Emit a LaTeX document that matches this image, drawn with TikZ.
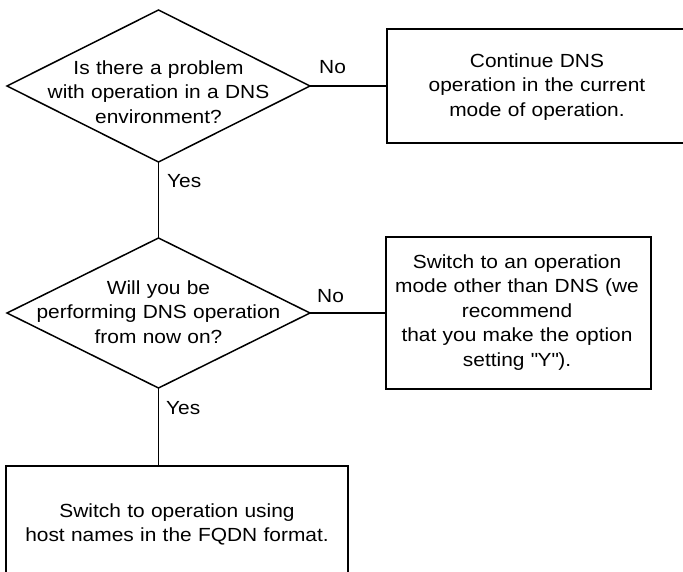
\documentclass[tikz,border=0pt]{standalone}
\usepackage{fontspec}
\setmainfont{Liberation Sans}[FakeStretch=1.1]
\usetikzlibrary{shapes.geometric}
\newcommand\straightdq{\XeTeXglyph\numexpr\XeTeXcharglyph"22\relax}
\begin{document}
\begin{tikzpicture}[x=1pt,y=-1pt,
  every node/.style={font=\fontsize{19}{24.5}\selectfont},
  dec/.style={diamond, draw, line width=1.5pt, inner sep=0pt, outer sep=0pt, minimum width=303pt},
  boxnode/.style={rectangle, draw, line width=1.7pt, inner sep=0pt, outer sep=0pt},
  txt/.style={anchor=base, align=center, text width=330pt, inner sep=0pt},
  lbl/.style={anchor=base west, inner sep=0pt},
  conn/.style={line width=1.5pt}]
\useasboundingbox (0,0) rectangle (683,571);
\clip (0,0) rectangle (683,571);
% decisions
\node[dec, minimum height=152pt] (d1) at (158.5,86) {};
\node[dec, minimum height=150pt] (d2) at (158.5,313) {};
% boxes
\node[boxnode, minimum width=303pt, minimum height=114pt] (b1) at (538.5,86) {};
\node[boxnode, minimum width=265pt, minimum height=152pt] (b2) at (518.5,313) {};
\node[boxnode, minimum width=342pt, minimum height=154pt] (b3) at (177,543) {};
% texts
\node[txt] (t1) at (158.5,74) {Is there a problem\\with operation in a DNS\\environment?};
\node[txt] (t2) at (158.5,294) {Will you be\\performing DNS operation\\from now on?};
\node[txt] (t3) at (537,67) {Continue DNS\\operation in the current\\mode of operation.};
\node[txt] (t4) at (517,268) {Switch to an operation\\mode other than DNS (we\\recommend\\that you make the option\\setting \straightdq Y\straightdq).};
\node[txt] (t5) at (177,517) {Switch to operation using\\host names in the FQDN format.};
% connectors
\draw[conn] (d1.east) -- (b1.west);
\draw[conn] (d1.south) -- (d2.north);
\draw[conn] (d2.east) -- (b2.west);
\draw[conn] (d2.south) -- (d2.south |- b3.north);
% labels
\node[lbl] (no1) at (319,73) {No};
\node[lbl] (no2) at (317,302) {No};
\node[lbl] (yes1) at (167,187) {Yes};
\node[lbl] (yes2) at (166,414) {Yes};
\end{tikzpicture}
\end{document}
